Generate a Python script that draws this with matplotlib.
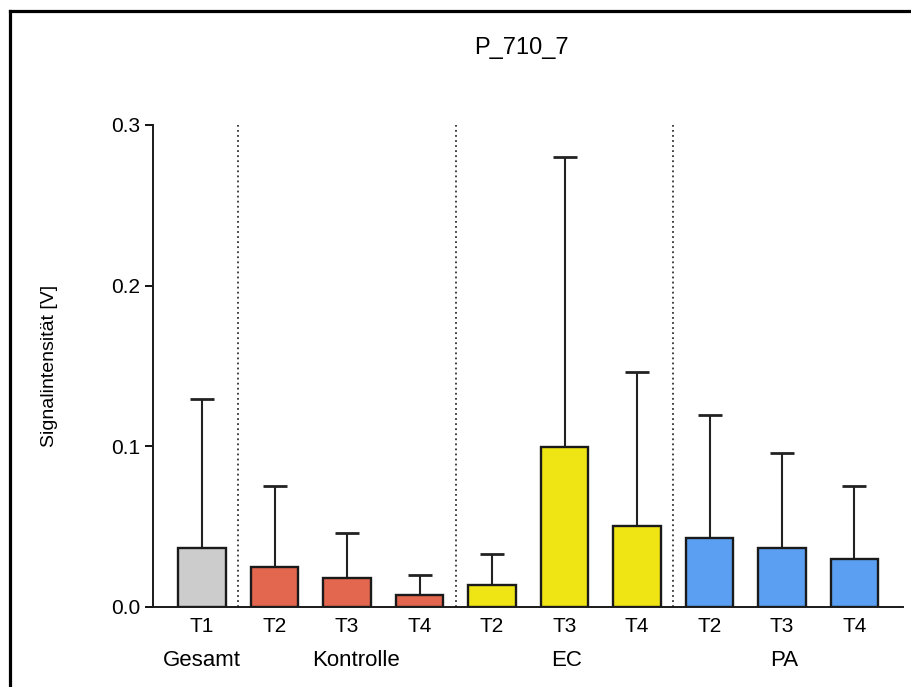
import matplotlib
matplotlib.use("Agg")
import matplotlib.pyplot as plt
from matplotlib.lines import Line2D
import numpy as np

plt.rcParams['font.family'] = ['Liberation Sans', 'DejaVu Sans']

# Mean signal per group/time point and the upper standard deviation
time_labels = ["T1", "T2", "T3", "T4", "T2", "T3", "T4", "T2", "T3", "T4"]
means = [0.0367, 0.0249, 0.0180, 0.0075, 0.0137, 0.0995, 0.0504, 0.0430, 0.0367, 0.0300]
sds = [0.0927, 0.0504, 0.0280, 0.0124, 0.0193, 0.1805, 0.0956, 0.0765, 0.0593, 0.0453]
groups = ["Gesamt", "Kontrolle", "EC", "PA"]
group_sizes = [1, 3, 3, 3]
group_colors = ["#cccccc", "#e3664f", "#efe514", "#5a9ff1"]

title = "P_710_7"
ylabel = "Signalintensität [V]"

fig = plt.figure(figsize=(9.11, 6.87), dpi=100)
ax = fig.add_axes([153 / 911, 80 / 687, 750 / 911, 482 / 687])

x = np.arange(len(means))
colors = []
for c, n in zip(group_colors, group_sizes):
    colors += [c] * n

ax.errorbar(x, means, yerr=[np.zeros(len(sds)), sds], fmt="none",
            ecolor="#222222", elinewidth=1.5, capsize=8.6, capthick=2.0, zorder=2)
ax.bar(x, means, width=0.65, color=colors, edgecolor="#1a1a1a", linewidth=1.7, zorder=3)

# dotted separators between groups
bounds = np.cumsum(group_sizes)[:-1] - 0.5
for b in bounds:
    ax.axvline(b, color="#333333", linestyle=(0, (1, 1.8)), linewidth=1.3, zorder=1)

ax.set_xlim(-0.676, 9.669)
ax.set_ylim(0, 0.3)
ax.set_yticks([0.0, 0.1, 0.2, 0.3])
ax.set_yticklabels(["0.0", "0.1", "0.2", "0.3"])
ax.set_xticks(x)
ax.set_xticklabels(time_labels)
ax.tick_params(axis="x", length=0, pad=7, labelsize=15)
ax.tick_params(axis="y", length=6, width=1.3, pad=3, labelsize=15, direction="out")

for side in ["top", "right"]:
    ax.spines[side].set_visible(False)
for side in ["left", "bottom"]:
    ax.spines[side].set_linewidth(1.4)
    ax.spines[side].set_color("#1a1a1a")

ax.set_ylabel(ylabel, fontsize=14, va="center")
ax.yaxis.set_label_coords(-0.138, 0.5)

# group labels below the time points
starts = np.concatenate([[0], np.cumsum(group_sizes)[:-1]])
offsets = [0.0, 0.12, 0.03, 0.03]
for g, s, n, off in zip(groups, starts, group_sizes, offsets):
    cx = s + (n - 1) / 2 + off
    ax.text(cx, -0.1105, g, ha="center", va="center", fontsize=16,
            transform=ax.get_xaxis_transform(), clip_on=False)

fig.text(521 / 911, 1 - 48 / 687, title, ha="center", va="center", fontsize=17)

# outer frame (top and left edges)
lw = 2.3
fig.add_artist(Line2D([10 / 911, 1.0], [1 - 11 / 687, 1 - 11 / 687], color="black", linewidth=lw,
                      transform=fig.transFigure))
fig.add_artist(Line2D([10 / 911, 10 / 911], [0.0, 1 - 11 / 687], color="black", linewidth=lw,
                      transform=fig.transFigure))

fig.savefig("out.png", dpi=100, facecolor="white")
